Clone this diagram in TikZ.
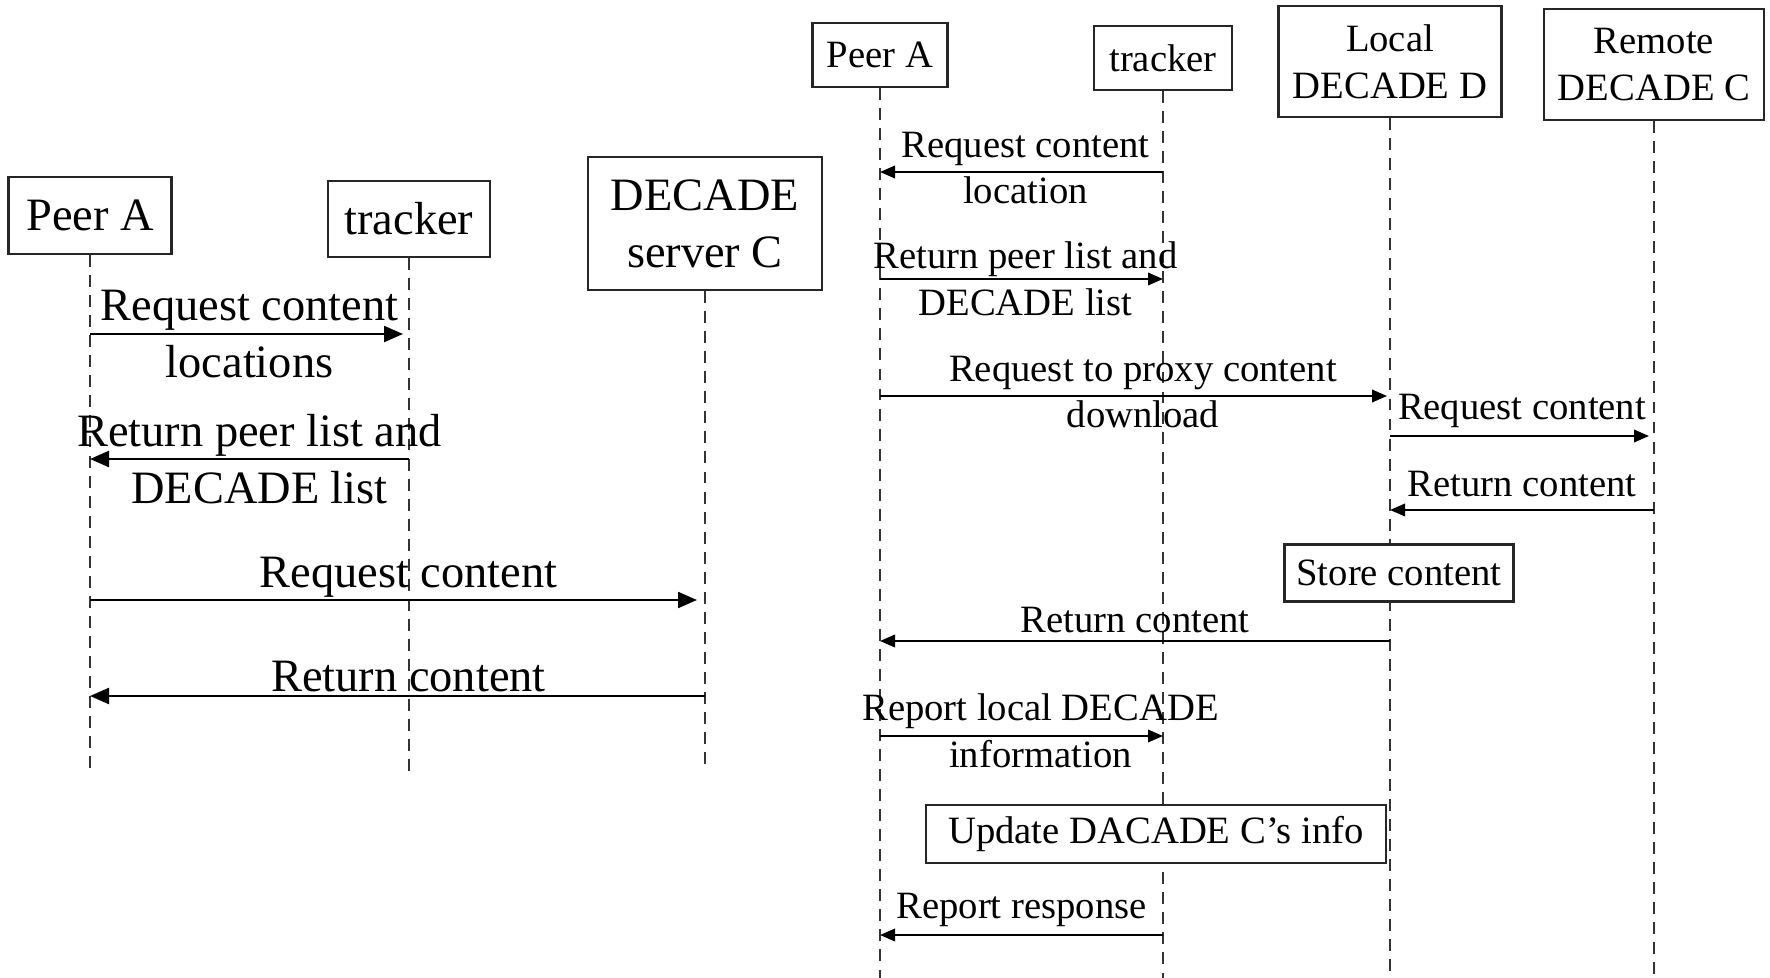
\documentclass[tikz,border=0pt]{standalone}
\usepackage{fontspec}
\setmainfont{Liberation Serif}
\usetikzlibrary{arrows.meta}

\tikzstyle{actor} = [draw=black!85, fill=white, align=center, inner sep=0pt]
\tikzstyle{big-actor} = [actor, line width=0.7pt, font=\fontsize{13.2}{16.2}\selectfont]
\tikzstyle{small-actor} = [actor, line width=0.6pt, font=\fontsize{11}{13.3}\selectfont]
\tikzstyle{lifeline} = [black!80, line width=0.5pt, dash pattern=on 3.4pt off 2.3pt]
\tikzstyle{big-msg} = [line width=0.65pt, -{Triangle[length=1.9mm, width=1.6mm]}]
\tikzstyle{small-msg} = [line width=0.55pt, -{Triangle[length=1.5mm, width=1.25mm]}]
\tikzstyle{big-label} = [align=center, inner sep=0pt, font=\fontsize{13.2}{16.2}\selectfont]
\tikzstyle{small-label} = [align=center, inner sep=0pt, font=\fontsize{11}{13.3}\selectfont]

\begin{document}
\begin{tikzpicture}[x=0.1mm, y=-0.1mm]

	\useasboundingbox (0,0) rectangle (1770,978);

	% left: direct download from the DECADE server
	\node [big-actor, minimum width=1.63cm, minimum height=0.77cm] (peerL) at (90,215.5) {Peer A};
	\node [big-actor, minimum width=1.62cm, minimum height=0.76cm] (trackL) at (409,219) {tracker};
	\node [big-actor, minimum width=2.34cm, minimum height=1.33cm] (decadeL) at (705,223.5) {DECADE\\server C};
	\coordinate (endL) at (0,771);

	% right: download through the local DECADE
	\node [small-actor, minimum width=1.35cm, minimum height=0.64cm] (peerR) at (880,55) {Peer A};
	\node [small-actor, minimum width=1.38cm, minimum height=0.64cm] (trackR) at (1163,58) {tracker};
	\node [small-actor, minimum width=2.23cm, minimum height=1.11cm] (localR) at (1390,61.5) {Local\\DECADE D};
	\node [small-actor, minimum width=2.20cm, minimum height=1.11cm] (remoteR) at (1654,64.5) {Remote\\DECADE C};
	\coordinate (endR) at (0,978);

	\foreach \n in {peerL,trackL,decadeL}{%
		\draw[lifeline] (\n.south) -- (\n.south |- endL);}

	\foreach \n in {peerR,trackR,localR,remoteR}{%
		\draw[lifeline] (\n.south) -- (\n.south |- endR);}

	% left messages
	\draw[big-msg, shorten >=0.6mm] (peerL |- 0,334) -- (trackL |- 0,334)
		node[big-label, midway] {Request content\\locations};
	\draw[big-msg] (trackL |- 0,459) -- (peerL |- 0,459)
		node[big-label, midway, xshift=1mm] {Return peer list and\\DECADE list};
	\draw[big-msg, shorten >=0.8mm] (peerL |- 0,600) -- (decadeL |- 0,600)
		node[big-label, midway, xshift=1.1mm, yshift=2.3mm] {Request content};
	\draw[big-msg] (decadeL |- 0,696) -- (peerL |- 0,696)
		node[big-label, midway, xshift=1.1mm, yshift=1.9mm] {Return content};

	% right messages
	\draw[small-msg] (trackR |- 0,172) -- (peerR |- 0,172)
		node[small-label, midway, xshift=0.4mm, yshift=0.4mm] {Request content\\location};
	\draw[small-msg] (peerR |- 0,279) -- (trackR |- 0,279)
		node[small-label, midway, xshift=0.4mm] {Return peer list and\\DECADE list};
	\draw[small-msg, shorten >=0.3mm] (peerR |- 0,396) -- (localR |- 0,396)
		node[small-label, midway, xshift=0.8mm, yshift=0.4mm] {Request to proxy content\\download};
	\draw[small-msg, shorten >=0.5mm] (localR |- 0,436) -- (remoteR |- 0,436)
		node[small-label, midway, yshift=2.5mm] {Request content};
	\draw[small-msg] (remoteR |- 0,510) -- (localR |- 0,510)
		node[small-label, midway, yshift=2.6mm] {Return content};

	\node [small-actor, minimum width=2.29cm, minimum height=0.57cm] (store) at (1399,573) {Store content};

	\draw[small-msg] (localR |- 0,641) -- (peerR |- 0,641)
		node[small-label, midway, yshift=2.1mm] {Return content};
	\draw[small-msg] (peerR |- 0,736) -- (trackR |- 0,736)
		node[small-label, midway, xshift=1.9mm, yshift=0.55mm] {Report local DECADE\\information};

	\node [small-actor, minimum width=4.60cm, minimum height=0.58cm] (update) at (1156,834) {Update DACADE C’s info};

	\draw[small-msg] (trackR |- 0,935) -- (peerR |- 0,935)
		node[small-label, midway, yshift=2.5mm] {Report response};

\end{tikzpicture}
\end{document}
